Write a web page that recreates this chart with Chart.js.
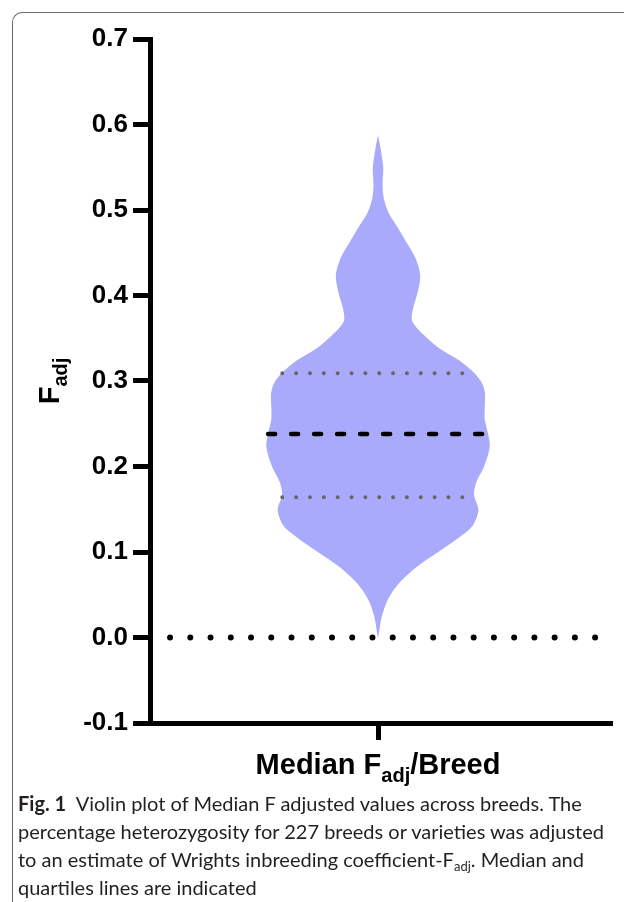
<!DOCTYPE html>
<html>
<head>
<meta charset="utf-8">
<script src="https://cdn.jsdelivr.net/npm/chart.js@4.4.0/dist/chart.umd.min.js"></script>
<style>
  html, body { margin: 0; padding: 0; background: #fff; overflow: hidden; }
  body { width: 624px; height: 902px; position: relative; }
  #frame {
    position: absolute; left: 12px; top: 12px; width: 700px; height: 1000px;
    border-left: 1px solid #6b6b6b; border-top: 1px solid #6b6b6b;
    border-top-left-radius: 10px;
  }
  #wrap { position: absolute; left: 0; top: 0; width: 624px; height: 790px; }
  #caption {
    position: absolute; left: 18px; top: 789px;
    font-family: Lato, sans-serif; font-size: 20px; line-height: 28px;
    color: #231f20; white-space: nowrap;
  }
  #caption b { font-weight: bold; }
  #caption sub { font-size: 13px; vertical-align: -4px; line-height: 0; }
</style>
</head>
<body>
<div id="frame"></div>
<div id="wrap"><canvas id="chart"></canvas></div>
<div id="caption">
  <div><b>Fig. 1</b>&nbsp; Violin plot of Median F adjusted values across breeds. The</div>
  <div>percentage heterozygosity for 227 breeds or varieties was adjusted</div>
  <div>to an estimate of Wrights inbreeding coefficient-F<sub>adj</sub>. Median and</div>
  <div>quartiles lines are indicated</div>
</div>
<script>
// violin outline: F_adj value and half width of the shape
const violinValues = [0.000, 0.005, 0.024, 0.044, 0.063, 0.083, 0.102, 0.122, 0.132, 0.149,
  0.167, 0.181, 0.200, 0.223, 0.239, 0.255, 0.270, 0.286, 0.298, 0.310,
  0.324, 0.339, 0.354, 0.370, 0.385, 0.405, 0.424, 0.444, 0.463, 0.483,
  0.498, 0.514, 0.530, 0.549, 0.569, 0.588];
const violinWidths = [0, 0.004, 0.016, 0.042, 0.090, 0.172, 0.275, 0.380, 0.418, 0.440,
  0.421, 0.430, 0.465, 0.490, 0.482, 0.468, 0.468, 0.469, 0.455, 0.420,
  0.357, 0.265, 0.200, 0.150, 0.154, 0.175, 0.185, 0.164, 0.123, 0.078,
  0.044, 0.025, 0.020, 0.023, 0.013, 0];

// median and quartiles (value, left end, right end)
const medianValue = 0.238;
const medianSpan = [-0.482, 0.470];
const quartileValues = [0.164, 0.309];
const quartileSpan = [-0.42, 0.40];

// reference line at zero
const zeroSpan = [-0.912, 0.955];

const yTicks = [-0.1, 0.0, 0.1, 0.2, 0.3, 0.4, 0.5, 0.6, 0.7];
const xTitle = [['Median F', false], ['adj', true], ['/Breed', false]];
const yTitle = [['F', false], ['adj', true]];

const FONT = '"Liberation Sans", Arial, Helvetica, sans-serif';

// closed outline: right half going up, left half coming down
const violinPts = violinValues.map((v, i) => ({ x: violinWidths[i], y: v }))
  .concat(violinValues.slice().reverse().map((v, i) => ({ x: -violinWidths[violinWidths.length - 1 - i], y: v })));

function hline(value, span) {
  return [{ x: span[0], y: value }, { x: span[1], y: value }];
}

function richText(ctx, parts, x, y, align) {
  const big = 'bold 29px ' + FONT, small = 'bold 20px ' + FONT;
  let total = 0;
  for (const [t, sub] of parts) { ctx.font = sub ? small : big; total += ctx.measureText(t).width; }
  let cx = align === 'center' ? x - total / 2 : x;
  ctx.textAlign = 'left';
  ctx.textBaseline = 'alphabetic';
  for (const [t, sub] of parts) {
    ctx.font = sub ? small : big;
    ctx.fillText(t, cx, sub ? y + 8 : y);
    cx += ctx.measureText(t).width;
  }
}

const titlesPlugin = {
  id: 'titles',
  afterDraw(chart) {
    const ctx = chart.ctx, a = chart.chartArea;
    ctx.save();
    ctx.fillStyle = '#000';
    richText(ctx, xTitle, chart.scales.x.getPixelForValue(0), a.bottom + 51, 'center');
    ctx.translate(59, (a.top + a.bottom) / 2);
    ctx.rotate(-Math.PI / 2);
    richText(ctx, yTitle, 0, 0, 'center');
    ctx.restore();
  }
};

const ctx = document.getElementById('chart').getContext('2d');

new Chart(ctx, {
  type: 'scatter',
  data: {
    datasets: [
      {
        label: 'zero',
        data: hline(0, zeroSpan),
        showLine: true,
        borderColor: '#000',
        borderWidth: 6,
        borderDash: [0, 20.24],
        borderCapStyle: 'round',
        pointRadius: 0
      },
      {
        label: 'median',
        data: hline(medianValue, medianSpan),
        showLine: true,
        borderColor: '#000',
        borderWidth: 4.5,
        borderDash: [7, 16],
        borderCapStyle: 'round',
        pointRadius: 0
      },
      ...quartileValues.map(q => ({
        label: 'quartile',
        data: hline(q, quartileSpan),
        showLine: true,
        borderColor: '#666',
        borderWidth: 4,
        borderDash: [0, 13.85],
        borderCapStyle: 'round',
        pointRadius: 0
      })),
      {
        label: 'violin',
        data: violinPts,
        showLine: true,
        borderWidth: 0,
        borderColor: 'rgba(0,0,0,0)',
        backgroundColor: '#a9aafb',
        fill: 'shape',
        tension: 0.3,
        pointRadius: 0
      }
    ]
  },
  options: {
    responsive: true,
    maintainAspectRatio: false,
    animation: false,
    layout: { padding: { top: 39, right: 12, left: 0, bottom: 0 } },
    plugins: { legend: { display: false }, tooltip: { enabled: false } },
    scales: {
      x: {
        type: 'linear',
        min: -1,
        max: 1.026,
        afterBuildTicks: s => { s.ticks = [{ value: 0 }]; },
        afterFit: s => { s.height = 67; },
        ticks: { callback: () => '', padding: 0 },
        grid: { drawOnChartArea: false, tickLength: 17, tickWidth: 5, tickColor: '#000' },
        border: { display: true, width: 5, color: '#000' }
      },
      y: {
        type: 'linear',
        min: -0.1,
        max: 0.7,
        afterBuildTicks: s => { s.ticks = yTicks.map(v => ({ value: v })); },
        afterFit: s => { s.width = 150; },
        ticks: {
          color: '#000',
          padding: 5,
          font: { family: FONT, size: 26, weight: 'bold' },
          callback: v => Number(v).toFixed(1)
        },
        grid: { drawOnChartArea: false, tickLength: 17, tickWidth: 5, tickColor: '#000' },
        border: { display: true, width: 5, color: '#000' }
      }
    }
  },
  plugins: [titlesPlugin]
});
</script>
</body>
</html>
